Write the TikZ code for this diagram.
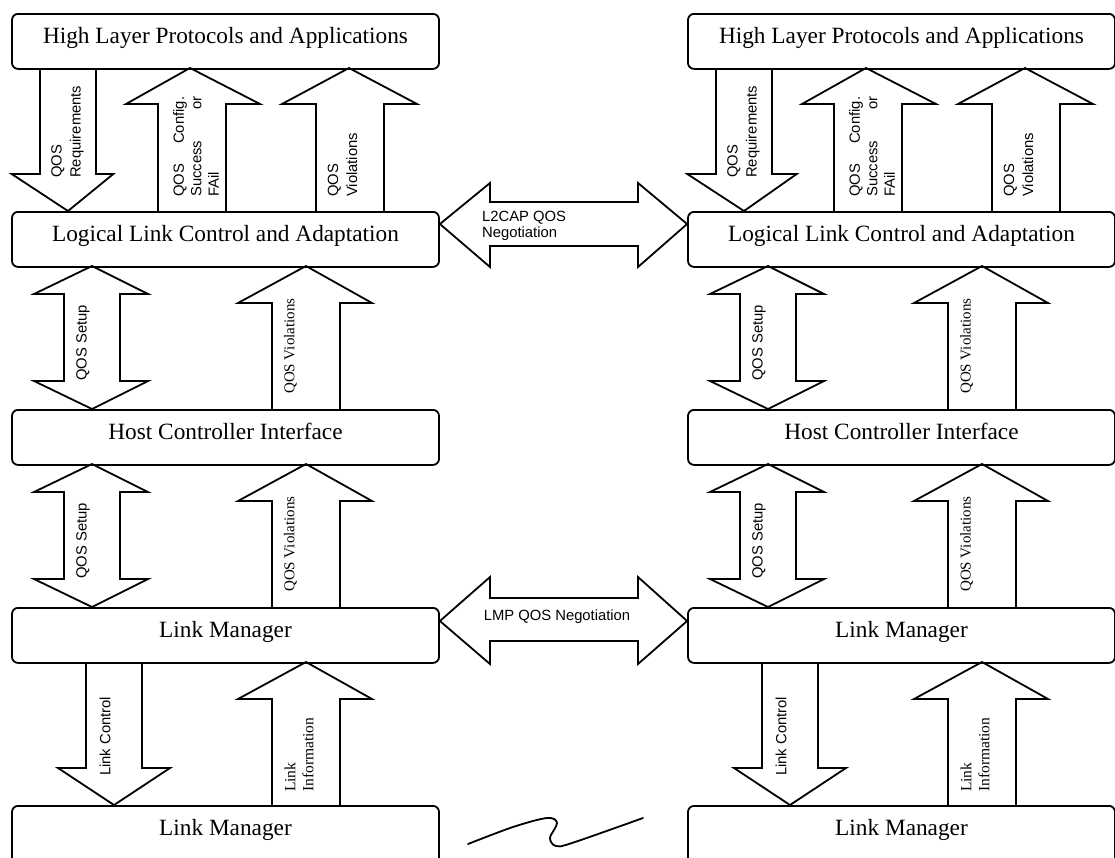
\documentclass[tikz,border=0pt]{standalone}
\usepackage{fontspec}
\setmainfont{Liberation Serif}
\setsansfont{Liberation Sans}
\tikzset{
 box/.style={draw, line width=1.8pt, rounded corners=6pt, minimum width=427pt, minimum height=55pt, inner sep=0pt, text height=30pt, text depth=25pt, font=\fontsize{23.3}{28}\selectfont, anchor=north},
 blk/.style={draw, line width=1.8pt, line join=miter},
 slab/.style={rotate=90, anchor=west, inner sep=0pt, align=left, font=\sffamily\fontsize{14.8}{19}\selectfont},
 rlab/.style={rotate=90, anchor=west, inner sep=0pt, align=left, font=\fontsize{15}{18}\selectfont},
 hlab/.style={inner sep=0pt, align=left, font=\sffamily\fontsize{14.8}{16}\selectfont},
}
\newcommand\qosstack[4]{%
\begin{scope}[xshift=#1pt]
 \node[box] (hl#2) at (225.5,13) {High Layer Protocols and Applications};
 \node[box] (ll#2) at (225.5,211) {Logical Link Control and Adaptation};
 \node[box] (hc#2) at (225.5,409) {Host Controller Interface};
 \node[box] (lm#2) at (225.5,607) {Link Manager};
 \node[box, text depth=45pt, minimum height=75pt] (lb#2) at (225.5,805) {Link Manager};
 % top section
 \draw[blk] (40,68)--(40,174)--(#3,174)--(68,211)--(#4,174)--(96,174)--(96,68);
 \draw[blk] (158,211)--(158,104)--(126,104)--(190,68)--(260,104)--(226,104)--(226,211);
 \draw[blk] (316,211)--(316,104)--(282,104)--(349,68)--(417,104)--(384,104)--(384,211);
 \node[slab] (rq#2) at (67.5,178) {QOS\\Requirements};
 \node[slab] (cf#2) at (196,197) {\parbox{100pt}{\fontsize{14.8}{17.5}\selectfont QOS\hfill Config.\\Success\hfill or\\FAil}};
 \node[slab] (tv#2) at (342.5,197) {QOS\\Violations};
 % middle sections
 \foreach \dy/\nm in {0/a,198/b}{
  \begin{scope}[yshift=-\dy pt]
   \draw[blk] (64,294)--(34,294)--(92,266)--(148,294)--(120,294)--(120,381)--(148,381)--(92,409)--(34,381)--(64,381)--cycle;
   \draw[blk] (272,409)--(272,303)--(238,303)--(306,266)--(372,303)--(340,303)--(340,409);
   \node[slab] (su\nm#2) at (83,381) {QOS Setup};
   \node[rlab] (vi\nm#2) at (290.5,394) {QOS Violations};
  \end{scope}
 }
 % bottom section
 \draw[blk] (86,662)--(86,768)--(58,768)--(114,805)--(170,768)--(142,768)--(142,662);
 \draw[blk] (272,805)--(272,699)--(238,699)--(306,662)--(372,699)--(340,699)--(340,805);
 \node[slab] (lc#2) at (105,776) {Link Control};
 \node[rlab, font=\fontsize{15.5}{18}\selectfont] (li#2) at (299,792) {Link\\Information};
\end{scope}}
\begin{document}
\begin{tikzpicture}[x=1pt,y=-1pt]
\useasboundingbox (0,0) rectangle (1115,857);
\clip (0,0) rectangle (1115,857);
\qosstack{0}{L}{11.7}{113.3}
\qosstack{676}{R}{11.3}{120.7}
% L2CAP negotiation
\draw[blk] (llL.east |- 0,224)--(490,183)--(490,202)--(638,202)--(638,183)--(llR.west |- 0,224)--(638,267)--(638,246)--(490,246)--(490,267)--cycle;
\node[hlab, anchor=north west] (l2) at (482,211) {L2CAP QOS\\Negotiation};
% LMP negotiation
\draw[blk] (lmL.east |- 0,621)--(490,577)--(490,598)--(638,598)--(638,577)--(lmR.west |- 0,621)--(638,664)--(638,641)--(490,641)--(490,664)--cycle;
\node[hlab, anchor=base] (lmp) at (557,620) {LMP QOS Negotiation};
% break mark
\draw[line width=1.8pt, line cap=round] plot[smooth, tension=0.55] coordinates {(468,844) (513,827) (547,818) (557,823) (550,838) (556,846) (572,843) (643,818)};
\end{tikzpicture}
\end{document}
